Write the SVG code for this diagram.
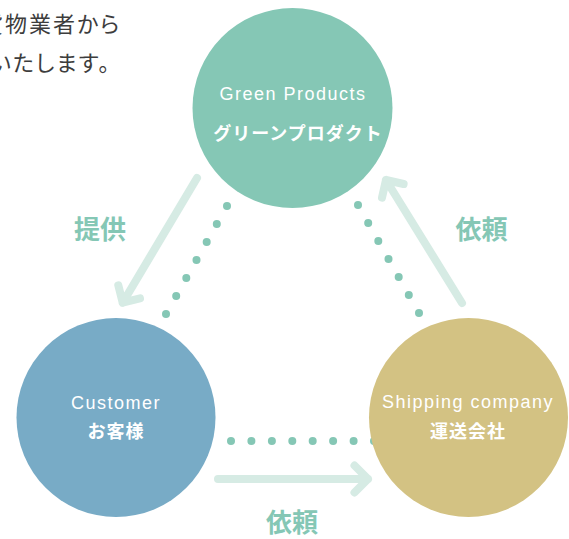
<svg xmlns="http://www.w3.org/2000/svg" width="569" height="539" viewBox="0 0 569 539">
<style>
.intro{font-family:"Noto Sans CJK JP","Noto Sans",sans-serif;font-size:22px;fill:#3d3d3d;letter-spacing:2px;font-feature-settings:"palt" 1}
.en{font-family:"Liberation Sans","Noto Sans",sans-serif;font-size:18px;fill:#ffffff;letter-spacing:1.5px;text-anchor:middle}
.jp{font-family:"Noto Sans CJK JP",sans-serif;font-size:18px;font-weight:bold;fill:#ffffff;letter-spacing:1px;text-anchor:middle}
.lbl{font-family:"Noto Sans CJK JP",sans-serif;font-size:26px;font-weight:bold;fill:#85c7b5;text-anchor:middle}
.arrow{fill:none;stroke:#d6ebe4;stroke-width:8;stroke-linecap:round;stroke-linejoin:round}
.dot{fill:#85c7b5}
</style>
<rect width="569" height="539" fill="#ffffff"/>
<g id="intro">
<text class="intro" x="-19" y="32" letter-spacing="3.5">貨物業者から</text>
<text class="intro" x="-10" y="71">いたします。</text>
</g>
<g id="connectors">
<g id="dots-left">
<circle class="dot" cx="227" cy="206" r="4"/>
<circle class="dot" cx="216.8" cy="224" r="4"/>
<circle class="dot" cx="206.7" cy="242" r="4"/>
<circle class="dot" cx="196.5" cy="260" r="4"/>
<circle class="dot" cx="186.3" cy="278" r="4"/>
<circle class="dot" cx="176.2" cy="296" r="4"/>
<circle class="dot" cx="166" cy="314" r="4"/>
</g>
<g id="dots-right">
<circle class="dot" cx="358" cy="205" r="4"/>
<circle class="dot" cx="368.2" cy="223" r="4"/>
<circle class="dot" cx="378.3" cy="241" r="4"/>
<circle class="dot" cx="388.5" cy="259" r="4"/>
<circle class="dot" cx="398.7" cy="277" r="4"/>
<circle class="dot" cx="408.8" cy="295" r="4"/>
<circle class="dot" cx="419" cy="313" r="4"/>
</g>
<g id="dots-bottom">
<circle class="dot" cx="231" cy="441" r="4"/>
<circle class="dot" cx="251.4" cy="441" r="4"/>
<circle class="dot" cx="271.9" cy="441" r="4"/>
<circle class="dot" cx="292.3" cy="441" r="4"/>
<circle class="dot" cx="312.7" cy="441" r="4"/>
<circle class="dot" cx="333.1" cy="441" r="4"/>
<circle class="dot" cx="353.6" cy="441" r="4"/>
<circle class="dot" cx="374" cy="441" r="4"/>
</g>
<path class="arrow" d="M197,178 L122.7,302.7 M118.3,285.3 L122.7,302.7 L140,298.4"/>
<path class="arrow" d="M462,303 L386,180 M382,197.6 L386,180 L403.6,184"/>
<path class="arrow" d="M218,479 L368,479 M354.5,465.5 L368,479 L354.5,492.5"/>
<text class="lbl" x="100" y="239">提供</text>
<text class="lbl" x="481.5" y="239">依頼</text>
<text class="lbl" x="292" y="532">依頼</text>
</g>
<g id="green-products">
<circle cx="292.5" cy="108" r="100" fill="#85c7b5"/>
<text class="en" x="293" y="100">Green Products</text>
<text class="jp" x="298" y="140">グリーンプロダクト</text>
</g>
<g id="customer">
<circle cx="116" cy="417.5" r="99.5" fill="#78abc6"/>
<text class="en" x="116" y="409">Customer</text>
<text class="jp" x="116" y="438">お客様</text>
</g>
<g id="shipping-company">
<circle cx="468.5" cy="417.5" r="99.5" fill="#d3c283"/>
<text class="en" x="468" y="408">Shipping company</text>
<text class="jp" x="468" y="438">運送会社</text>
</g>
</svg>
